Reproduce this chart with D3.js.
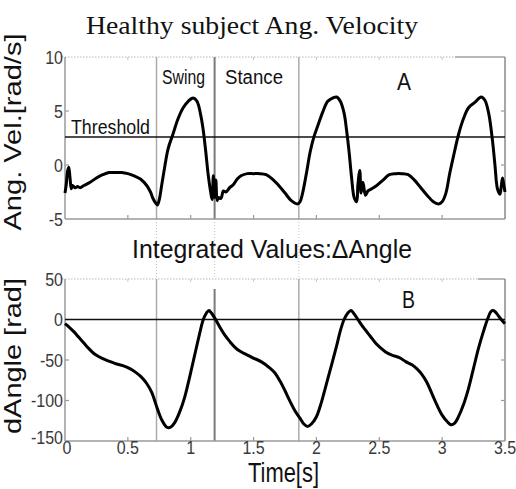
<!DOCTYPE html>
<html>
<head>
<meta charset="utf-8">
<script src="https://cdn.jsdelivr.net/npm/d3@7"></script>
<style>
body { margin: 0; background: #fff; }
svg { display: block; font-family: "Liberation Sans", Arial, sans-serif; }
</style>
</head>
<body>
<svg id="chart" width="516" height="489"></svg>
<script>
// shared time axis
var timeTicks = [0, 0.5, 1, 1.5, 2, 2.5, 3, 3.5];
var phaseLines = [0.728, 1.19, 1.86];
var thresholdValue = 2.6;

// panel A: angular velocity [rad/s]
var velTime = [0.00, 0.01, 0.02, 0.03, 0.04, 0.05, 0.06, 0.08, 0.10, 0.12, 0.15, 0.20, 0.25, 0.30, 0.35, 0.40, 0.45, 0.50,
    0.55, 0.60, 0.65, 0.68, 0.70, 0.72, 0.735, 0.75, 0.77, 0.79, 0.82, 0.86, 0.90, 0.94, 0.98, 1.02, 1.05, 1.08, 1.10,
    1.12, 1.14, 1.16, 1.17, 1.18, 1.19, 1.20, 1.21, 1.22, 1.24, 1.26, 1.28, 1.31, 1.34, 1.37, 1.40, 1.45, 1.50, 1.55,
    1.60, 1.65, 1.70, 1.75, 1.80, 1.85, 1.87, 1.89, 1.92, 1.95, 1.98, 2.01, 2.05, 2.09, 2.13, 2.16, 2.19, 2.22, 2.24,
    2.26, 2.28, 2.30, 2.32, 2.33, 2.345, 2.355, 2.37, 2.39, 2.41, 2.44, 2.48, 2.53, 2.58, 2.63, 2.68, 2.73, 2.78, 2.83,
    2.88, 2.93, 2.97, 3.00, 3.03, 3.06, 3.09, 3.13, 3.17, 3.21, 3.26, 3.31, 3.34, 3.37, 3.40, 3.42, 3.44, 3.46, 3.47,
    3.48, 3.49, 3.50];
var velValue = [-2.6, -1.8, -0.6, -0.2, -1.2, -2.2, -1.9, -2.1, -2.0, -2.1, -1.9, -1.6, -1.2, -0.9, -0.7, -0.7, -0.7, -0.8,
    -1.0, -1.3, -1.9, -2.5, -3.1, -3.5, -3.7, -3.2, -1.8, -0.4, 1.5, 2.9, 4.3, 5.3, 5.9, 6.2, 5.9, 4.6, 3.2,
    1.2, -1.0, -2.6, -3.2, -1.0, -3.0, -1.4, -3.3, -3.0, -3.1, -2.4, -2.5, -2.1, -1.8, -1.3, -1.0, -0.8, -0.8, -0.8,
    -0.9, -1.3, -1.9, -2.6, -3.3, -3.6, -3.4, -2.6, -0.8, 1.2, 2.6, 3.6, 4.9, 5.9, 6.2, 6.3, 5.9, 4.8, 3.2,
    1.2, -1.2, -3.0, -3.4, -1.8, -0.5, -2.6, -1.6, -2.8, -2.4, -2.2, -1.9, -1.4, -0.9, -0.8, -0.8, -0.9, -1.4, -2.1,
    -2.8, -3.4, -3.6, -3.4, -2.6, -0.8, 0.8, 2.8, 4.3, 5.3, 5.8, 6.3, 6.0, 4.8, 2.3, 0.0, -2.2, -2.7, -2.0,
    -1.2, -1.8, -2.5];
var velTicks = [-5, 0, 5, 10];

// panel B: integrated angle [rad]
var angTime = [0.00, 0.03, 0.07, 0.11, 0.15, 0.19, 0.23, 0.27, 0.31, 0.36, 0.41, 0.46, 0.52, 0.56, 0.60, 0.65, 0.69,
    0.73, 0.77, 0.81, 0.84, 0.87, 0.91, 0.95, 0.99, 1.03, 1.07, 1.10, 1.125, 1.145, 1.165, 1.19, 1.23, 1.27, 1.31,
    1.35, 1.39, 1.44, 1.49, 1.56, 1.63, 1.67, 1.71, 1.75, 1.79, 1.83, 1.87, 1.90, 1.93, 1.96, 2.00, 2.04, 2.07, 2.11,
    2.16, 2.19, 2.22, 2.25, 2.275, 2.30, 2.33, 2.36, 2.39, 2.43, 2.47, 2.51, 2.55, 2.60, 2.66, 2.71, 2.76, 2.80, 2.84,
    2.88, 2.92, 2.96, 3.00, 3.04, 3.07, 3.10, 3.13, 3.17, 3.21, 3.25, 3.29, 3.33, 3.36, 3.385, 3.40, 3.42, 3.45, 3.48,
    3.50];
var angValue = [-5, -9, -15, -22, -29, -36, -42, -46, -49, -52, -55, -57, -61, -65, -70, -79, -90,
    -108, -124, -133, -133, -128, -115, -97, -72, -45, -18, 0, 8, 11, 8, 2, -9, -19, -27,
    -34, -39, -43, -47, -52, -60, -66, -76, -88, -101, -113, -122, -129, -132, -129, -120, -102, -85, -62,
    -33, -14, 0, 8, 11, 7, 0, -7, -13, -21, -29, -35, -40, -44, -47, -52, -56, -61, -68,
    -78, -92, -106, -118, -126, -130, -128, -120, -105, -85, -60, -35, -14, 0, 9, 11, 10, 4, -2,
    -5];
var angTicks = [-150, -100, -50, 0, 50];

var svg = d3.select('#chart');
var left = 65, right = 505;

var x = d3.scaleLinear().domain([0, 3.5]).range([left, right]);
var yA = d3.scaleLinear().domain([-5, 10]).range([219, 57]);
var yB = d3.scaleLinear().domain([-150, 50]).range([441, 279]);

svg.append('rect').attr('width', 516).attr('height', 489).attr('fill', '#fff');

// phase markers run through both panels, dotted in the gap between them
function drawPhaseLines() {
    var g = svg.append('g');
    phaseLines.forEach(function(t, i) {
        var mid = i === 1;
        var stroke = mid ? '#7a7a7a' : '#ababab';
        var w = mid ? 2 : 1.5;
        g.append('line').attr('x1', x(t)).attr('x2', x(t)).attr('y1', yA.range()[1]).attr('y2', yA.range()[0])
            .attr('stroke', stroke).attr('stroke-width', w);
        g.append('line').attr('x1', x(t)).attr('x2', x(t)).attr('y1', yA.range()[0]).attr('y2', yB.range()[1])
            .attr('stroke', '#c4c4c4').attr('stroke-width', 1).attr('stroke-dasharray', '1,2');
        g.append('line').attr('x1', x(t)).attr('x2', x(t)).attr('y1', yB.range()[1] + (mid ? 10 : 0)).attr('y2', yB.range()[0])
            .attr('stroke', stroke).attr('stroke-width', w);
    });
}

function drawPanel(y, ticks, solidFrom) {
    var top = y.range()[1], bottom = y.range()[0];
    var g = svg.append('g');

    // matlab-like box: dotted top edge with a short solid piece on the right
    g.append('line').attr('x1', left - 3).attr('x2', solidFrom).attr('y1', top).attr('y2', top)
        .attr('stroke', '#b8b8b8').attr('stroke-width', 1.2).attr('stroke-dasharray', '1.5,1.5');
    g.append('line').attr('x1', solidFrom).attr('x2', right).attr('y1', top).attr('y2', top)
        .attr('stroke', '#a0a0a0').attr('stroke-width', 1.5);
    g.append('line').attr('x1', left).attr('x2', left).attr('y1', top).attr('y2', bottom)
        .attr('stroke', '#9a9a9a').attr('stroke-width', 1.5);
    g.append('line').attr('x1', right).attr('x2', right).attr('y1', top).attr('y2', bottom)
        .attr('stroke', '#8a8a8a').attr('stroke-width', 1.5);
    g.append('line').attr('x1', left).attr('x2', right).attr('y1', bottom).attr('y2', bottom)
        .attr('stroke', '#9a9a9a').attr('stroke-width', 1.5);

    // inward ticks
    var inner = timeTicks.slice(1, -1);
    g.selectAll('.xb').data(inner).join('line')
        .attr('x1', d => x(d)).attr('x2', d => x(d)).attr('y1', bottom).attr('y2', bottom - 4)
        .attr('stroke', '#9a9a9a').attr('stroke-width', 1.2);
    g.selectAll('.xt').data(inner).join('line')
        .attr('x1', d => x(d)).attr('x2', d => x(d)).attr('y1', top).attr('y2', top + 3)
        .attr('stroke', '#c8c8c8').attr('stroke-width', 1);
    var innerY = ticks.slice(1, -1);
    g.selectAll('.yl').data(innerY).join('line')
        .attr('x1', left).attr('x2', left + 4).attr('y1', d => y(d)).attr('y2', d => y(d))
        .attr('stroke', '#9a9a9a').attr('stroke-width', 1.2);
    g.selectAll('.yr').data(innerY).join('line')
        .attr('x1', right).attr('x2', right - 4).attr('y1', d => y(d)).attr('y2', d => y(d))
        .attr('stroke', '#9a9a9a').attr('stroke-width', 1.2);

    g.selectAll('.ylab').data(ticks).join('text')
        .attr('x', left - 2)
        .attr('y', d => y(d) - (d === ticks[0] && ticks[0] === -150 ? 3 : 0))
        .attr('dy', '0.36em')
        .attr('text-anchor', 'end')
        .attr('font-size', '16px')
        .attr('fill', '#3a3a3a')
        .attr('transform', d => 'translate(0,' + y(d) + ') scale(1,1.2) translate(0,' + (-y(d)) + ')')
        .text(d => d);
    return g;
}

drawPhaseLines();
var panelA = drawPanel(yA, velTicks, 455);
var panelB = drawPanel(yB, angTicks, 478);

// x tick labels, only under panel B
svg.append('g').selectAll('text').data(timeTicks).join('text')
    .attr('x', d => x(d) + (d === 0 ? 2 : 0))
    .attr('y', 454)
    .attr('text-anchor', 'middle')
    .attr('font-size', '16px')
    .attr('fill', '#3a3a3a')
    .attr('transform', 'translate(0,454) scale(1,1.2) translate(0,-454)')
    .text(d => d);

// reference lines
svg.append('line').attr('x1', left).attr('x2', right).attr('y1', yA(thresholdValue)).attr('y2', yA(thresholdValue))
    .attr('stroke', '#111').attr('stroke-width', 1.5);
svg.append('line').attr('x1', left).attr('x2', right).attr('y1', yB(0)).attr('y2', yB(0))
    .attr('stroke', '#111').attr('stroke-width', 1.5);

// signals
var lineA = d3.line().x(d => x(d[0])).y(d => yA(d[1])).curve(d3.curveCatmullRom.alpha(0.5));
var lineB = d3.line().x(d => x(d[0])).y(d => yB(d[1])).curve(d3.curveCatmullRom.alpha(0.5));

svg.append('path').datum(d3.zip(velTime, velValue)).attr('d', lineA)
    .attr('fill', 'none').attr('stroke', '#000').attr('stroke-width', 3).attr('stroke-linejoin', 'round');
svg.append('path').datum(d3.zip(angTime, angValue)).attr('d', lineB)
    .attr('fill', 'none').attr('stroke', '#000').attr('stroke-width', 3).attr('stroke-linejoin', 'round');

// text annotations
var labels = [
    { text: 'Healthy subject Ang. Velocity', x: 86, y: 34, size: 26, len: 332, serif: true },
    { text: 'Integrated Values:\u0394Angle', x: 132, y: 258, size: 25, len: 280 },
    { text: 'Threshold', x: 71, y: 134, size: 20, len: 79 },
    { text: 'Swing', x: 162, y: 84, size: 20, len: 43 },
    { text: 'Stance', x: 225, y: 84, size: 20, len: 58 },
    { text: 'A', x: 397, y: 90, size: 23, len: 14 },
    { text: 'B', x: 402, y: 308, size: 23, len: 13 },
    { text: 'Time[s]', x: 248, y: 482, size: 27, len: 71 }
];
svg.append('g').selectAll('text').data(labels).join('text')
    .attr('x', d => d.x)
    .attr('y', d => d.y)
    .attr('font-size', d => d.size + 'px')
    .attr('font-family', d => d.serif ? '"Liberation Serif", "Times New Roman", serif' : null)
    .attr('textLength', d => d.len)
    .attr('lengthAdjust', 'spacingAndGlyphs')
    .attr('fill', '#111')
    .text(d => d.text);

// rotated axis titles
var axisTitles = [
    { text: 'Ang. Vel.[rad/s]', cy: 132, len: 197 },
    { text: 'dAngle [rad]', cy: 356, len: 156 }
];
svg.append('g').selectAll('text').data(axisTitles).join('text')
    .attr('transform', d => 'translate(21,' + d.cy + ') rotate(-90)')
    .attr('text-anchor', 'middle')
    .attr('font-size', '24px')
    .attr('textLength', d => d.len)
    .attr('lengthAdjust', 'spacingAndGlyphs')
    .attr('fill', '#111')
    .text(d => d.text);
</script>
</body>
</html>
